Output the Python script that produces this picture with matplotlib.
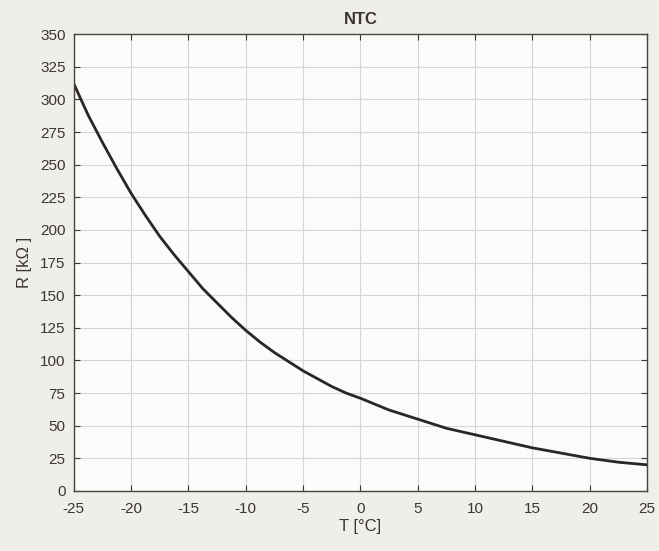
import matplotlib.pyplot as plt

# Temperature [°C] and NTC resistance [kOhm]
temp = [-25, -23.75, -22.5, -21.25, -20, -18.75, -17.5, -16.25, -15, -13.75,
        -12.5, -11.25, -10, -8.75, -7.5, -6.25, -5, -3.75, -2.5, -1.25, 0,
        2.5, 5, 7.5, 10, 12.5, 15, 17.5, 20, 22.5, 25]
res = [312, 288, 267, 247, 228, 211, 195, 181, 168, 155,
       144, 133, 123, 114, 106, 99, 92, 86, 80, 75, 71,
       62, 55, 48, 43, 38, 33, 29, 25, 22, 20]

xticks = list(range(-25, 26, 5))
yticks = list(range(0, 351, 25))

plt.rcParams['font.family'] = ['Liberation Sans', 'DejaVu Sans']
plt.rcParams['axes.unicode_minus'] = False

fig = plt.figure(figsize=(6.59, 5.51), dpi=100, facecolor='#efeee9')
ax = fig.add_axes([0.112, 0.109, 0.870, 0.829])
ax.set_facecolor('#fbfbf9')

ax.plot(temp, res, color='#2b2626', linewidth=2.0, solid_joinstyle='round')

ax.set_xlim(-25, 25)
ax.set_ylim(0, 350)
ax.set_xticks(xticks)
ax.set_yticks(yticks)
ax.grid(True, color='#d6d5d2', linewidth=0.8)
ax.tick_params(direction='in', top=True, right=True, labelsize=11,
               colors='#3a3535', length=4)
ax.tick_params(axis='x', pad=8)
ax.tick_params(axis='y', pad=6)
for s in ax.spines.values():
    s.set_color('#4a4545')
    s.set_linewidth(1.0)

ax.set_xlabel('T [°C]', fontsize=12, color='#3a3535', labelpad=2)
ax.set_ylabel('R [kΩ ]', fontsize=12, color='#3a3535', labelpad=6)
ax.set_title('NTC', fontsize=12, fontweight='bold', color='#3a3535', pad=7)

fig.savefig('out.png', dpi=100, facecolor=fig.get_facecolor())
